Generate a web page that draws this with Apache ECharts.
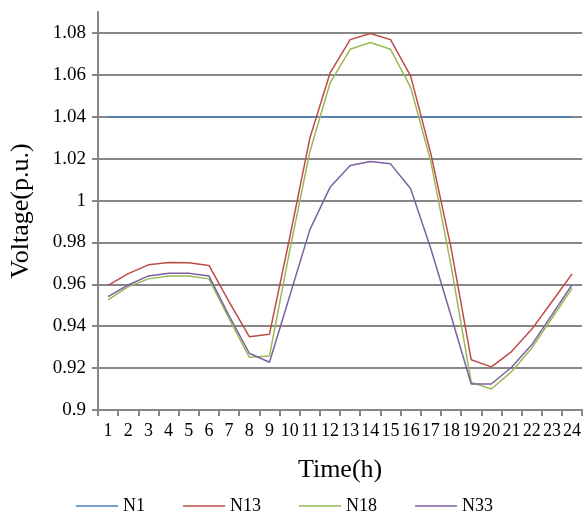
<!DOCTYPE html>
<html>
<head>
<meta charset="utf-8">
<script src="https://cdn.jsdelivr.net/npm/echarts@6/dist/echarts.min.js"></script>
<style>html,body{margin:0;padding:0;background:#fff}#c{width:584px;height:515px}</style>
</head>
<body>
<div id="c"></div>
<script>
const hours = ['1','2','3','4','5','6','7','8','9','10','11','12','13','14','15','16','17','18','19','20','21','22','23','24'];
const N1 = [1.04,1.04,1.04,1.04,1.04,1.04,1.04,1.04,1.04,1.04,1.04,1.04,1.04,1.04,1.04,1.04,1.04,1.04,1.04,1.04,1.04,1.04,1.04,1.04];
const N13 = [0.9595,0.9651,0.9693,0.9704,0.9703,0.9690,0.9516,0.9350,0.9362,0.9822,1.0297,1.0608,1.0768,1.0797,1.0768,1.0594,1.0224,0.9775,0.9240,0.9206,0.9279,0.9385,0.9517,0.9650];
const N18 = [0.9526,0.9589,0.9626,0.9640,0.9640,0.9626,0.9436,0.9252,0.9258,0.9760,1.0232,1.0560,1.0722,1.0754,1.0722,1.0540,1.0186,0.9690,0.9132,0.9100,0.9183,0.9295,0.9438,0.9581];
const N33 = [0.9541,0.9597,0.9640,0.9653,0.9653,0.9640,0.9450,0.9271,0.9228,0.9543,0.9860,1.0063,1.0167,1.0186,1.0175,1.0056,0.9770,0.9450,0.9124,0.9124,0.9204,0.9311,0.9454,0.9598];
const seriesNames = ['N1','N13','N18','N33'];
const colors = ['#4A7EBB','#BE4B48','#98B954','#7D60A0'];

const font = '"Liberation Serif", "Times New Roman", serif';
const chart = echarts.init(document.getElementById('c'));
const mk = (name, data, i) => ({
  name, type: 'line', data, symbol: 'none', smooth: false,
  lineStyle: { color: colors[i], width: 1.5 }, itemStyle: { color: colors[i] },
  animation: false
});
chart.setOption({
  backgroundColor: '#fff',
  animation: false,
  grid: { left: 96, right: 1, top: 12, bottom: 105, containLabel: false },
  legend: {
    data: seriesNames, left: 71, top: 492, itemWidth: 42, itemHeight: 10, itemGap: 38,
    icon: 'path://M0,4.2 L42,4.2 L42,5.8 L0,5.8 Z',
    textStyle: { fontFamily: font, fontSize: 18, color: '#000' }
  },
  xAxis: {
    type: 'category', data: hours, boundaryGap: true,
    name: 'Time(h)', nameLocation: 'middle', nameGap: 47,
    nameTextStyle: { fontFamily: font, fontSize: 26, color: '#000' },
    axisLine: { lineStyle: { color: '#878787', width: 2 } },
    axisTick: { show: true, length: 6, lineStyle: { color: '#878787', width: 2 }, interval: 0 },
    axisLabel: { interval: 0, fontFamily: font, fontSize: 18, color: '#000', margin: 12 },
    splitLine: { show: false }
  },
  yAxis: {
    type: 'value', min: 0.9, max: 1.09, interval: 0.02,
    name: 'Voltage(p.u.)', nameLocation: 'middle', nameGap: 64,
    nameTextStyle: { fontFamily: font, fontSize: 26, color: '#000' },
    axisLine: { show: true, lineStyle: { color: '#878787', width: 2 } },
    axisTick: { show: true, length: 6, lineStyle: { color: '#878787', width: 2 } },
    axisLabel: {
      fontFamily: font, fontSize: 19, color: '#000', margin: 12, showMaxLabel: false,
      formatter: v => { if (Math.abs(v - 1.09) < 1e-6) return ''; return String(Math.round(v * 100) / 100); }
    },
    splitLine: { show: true, showMaxLine: false, showMinLine: false, lineStyle: { color: '#878787', width: 2 } }
  },
  series: [mk('N1', N1, 0), mk('N13', N13, 1), mk('N18', N18, 2), mk('N33', N33, 3)]
});
</script>
</body>
</html>
